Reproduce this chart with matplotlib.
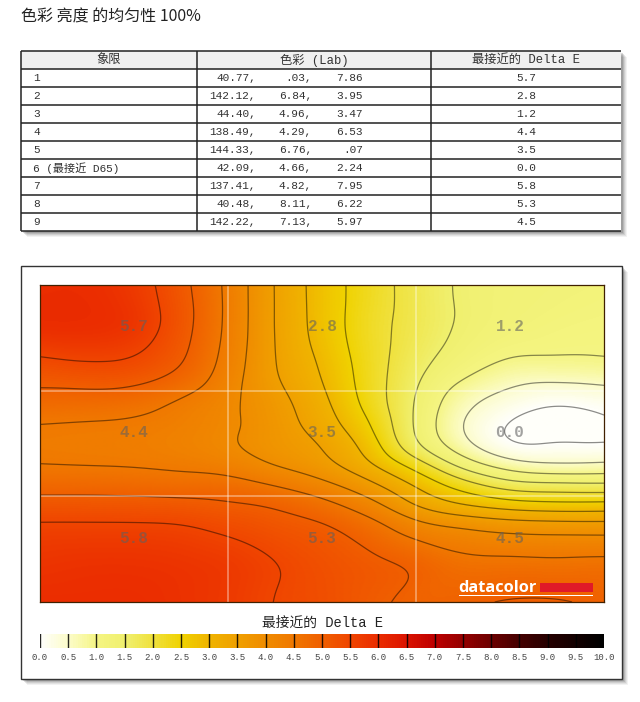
import numpy as np
import matplotlib
matplotlib.use("Agg")
import matplotlib.pyplot as plt
import matplotlib.tri as mtri
from matplotlib.colors import LinearSegmentedColormap
from matplotlib.patches import Rectangle

W, H = 640, 702
CJK = ['Noto Sans CJK SC', 'DejaVu Sans']
MONO = ['Liberation Mono', 'Noto Sans CJK SC']

title = "色彩 亮度 的均匀性 100%"
headers = ["象限", "色彩 (Lab)", "最接近的 Delta E"]
quadrants = ["1", "2", "3", "4", "5", "6 (最接近 D65)", "7", "8", "9"]
lab_l = ["40.77,", "142.12,", "44.40,", "138.49,", "144.33,", "42.09,", "137.41,", "40.48,", "142.22,"]
lab_a = [".03,", "6.84,", "4.96,", "4.29,", "6.76,", "4.66,", "4.82,", "8.11,", "7.13,"]
lab_b = ["7.86", "3.95", "3.47", "6.53", ".07", "2.24", "7.95", "6.22", "5.97"]
delta_e = [5.7, 2.8, 1.2, 4.4, 3.5, 0.0, 5.8, 5.3, 4.5]
legend_title = "最接近的 Delta E"
scale_ticks = [i * 0.5 for i in range(21)]

field_rows = [0.0, 0.126, 0.252, 0.379, 0.442, 0.505, 0.568, 0.631, 0.694, 0.757, 0.883, 1.0]
field = [
    [6.00, 6.00, 5.75, 5.15, 4.40, 3.47, 2.78, 2.25, 1.80, 1.42, 1.30, 1.25, 1.20],
    [6.00, 6.00, 5.85, 5.20, 4.40, 3.47, 2.80, 2.20, 1.80, 1.43, 1.25, 1.15, 1.10],
    [5.35, 5.45, 5.40, 5.02, 4.30, 3.50, 2.95, 2.25, 1.65, 1.20, 0.90, 0.90, 0.93],
    [4.75, 4.72, 4.65, 4.40, 4.10, 3.70, 3.15, 2.33, 1.45, 0.62, 0.20, -0.02, 0.08],
    [4.48, 4.45, 4.42, 4.30, 4.10, 3.75, 3.25, 2.55, 1.42, 0.47, -0.06, -0.15, -0.05],
    [4.40, 4.38, 4.35, 4.25, 4.05, 3.75, 3.50, 2.80, 1.55, 0.65, 0.00, 0.05, 0.00],
    [4.50, 4.48, 4.46, 4.40, 4.28, 3.97, 3.66, 3.08, 2.30, 1.30, 0.72, 0.53, 0.58],
    [4.80, 4.80, 4.78, 4.72, 4.72, 4.48, 4.15, 3.65, 2.95, 2.25, 1.72, 1.65, 1.60],
    [5.20, 5.20, 5.18, 5.15, 5.05, 4.95, 4.68, 4.20, 3.45, 3.00, 2.75, 2.65, 2.67],
    [5.55, 5.55, 5.55, 5.52, 5.37, 5.20, 5.05, 4.70, 4.15, 3.92, 3.75, 3.70, 3.68],
    [5.85, 5.90, 5.90, 5.85, 5.75, 5.52, 5.30, 5.12, 4.95, 4.65, 4.65, 4.62, 4.65],
    [6.00, 6.00, 6.00, 5.90, 5.75, 5.48, 5.35, 5.10, 4.90, 4.93, 5.03, 5.03, 4.92],
]
contour_levels = [i * 0.5 for i in range(12)]
scale_colors = ["#fffffa", "#fcfcc8", "#f5f582", "#f0f06e", "#f0e13c", "#f0d200", "#f0b400",
                "#f0a000", "#f08c00", "#f07800", "#f05f00", "#f04600", "#eb2d00", "#dc1400",
                "#be0000", "#960000", "#6e0000", "#460000", "#280000", "#140000", "#000000"]

cmap = LinearSegmentedColormap.from_list("delta", scale_colors)

fig = plt.figure(figsize=(W / 100, H / 100), dpi=100, facecolor="white")


def px_axes(x0, y0, x1, y1, **kw):
    return fig.add_axes([x0 / W, 1 - y1 / H, (x1 - x0) / W, (y1 - y0) / H], **kw)


def soften(z, sx, sy):
    # removes the facets of the coarse reading grid, with mirrored edges
    for axis, s in ((1, sx), (0, sy)):
        r = int(3 * s)
        k = np.exp(-0.5 * (np.arange(-r, r + 1) / s) ** 2)
        k /= k.sum()
        pad = [(r, r) if a == axis else (0, 0) for a in (0, 1)]
        zp = np.pad(z, pad, mode="reflect", reflect_type="odd")
        z = np.apply_along_axis(lambda v: np.convolve(v, k, mode="valid"), axis, zp)
    return z


bg = fig.add_axes([0, 0, 1, 1], zorder=0)
bg.set_xlim(0, W)
bg.set_ylim(H, 0)
bg.axis("off")


def shadow(x0, y0, x1, y1):
    for d, a in [(6, 0.06), (5, 0.08), (4, 0.1), (3, 0.14), (2, 0.18)]:
        bg.add_patch(Rectangle((x0 + d, y0 + d), x1 - x0, y1 - y0, fc="#303030", ec="none", alpha=a))
    bg.add_patch(Rectangle((x0, y0), x1 - x0, y1 - y0, fc="white", ec="none"))


bg.text(21, 17, title, family=CJK, fontsize=11.5, color="#222222", ha="left", va="center")

# table
tx0, tx1, ty0 = 21, 621, 51
row_h = 18
col_x = [197, 431]
n_rows = len(quadrants)
ty1 = ty0 + row_h * (n_rows + 1)
shadow(tx0, ty0, tx1, ty1)
bg.add_patch(Rectangle((tx0, ty0), tx1 - tx0, row_h, fc="#f0f0f0", ec="none"))
for i in range(n_rows + 2):
    y = ty0 + i * row_h
    bg.plot([tx0, tx1], [y, y], color="#222222", lw=1.1, solid_capstyle="butt")
for x in [tx0] + col_x:
    bg.plot([x, x], [ty0, ty1], color="#222222", lw=1.1, solid_capstyle="butt")
tfs = 8.0
tc = "#333333"
for x, h in zip([109, 314, 526], headers):
    bg.text(x, ty0 + row_h / 2, h, family=MONO, fontsize=8.8, color=tc, ha="center", va="center")
for i in range(n_rows):
    y = ty0 + row_h * (i + 1.5)
    bg.text(33, y, quadrants[i], family=MONO, fontsize=tfs, color=tc, ha="left", va="center")
    bg.text(256, y, lab_l[i], family=MONO, fontsize=tfs, color=tc, ha="right", va="center")
    bg.text(312, y, lab_a[i], family=MONO, fontsize=tfs, color=tc, ha="right", va="center")
    bg.text(363, y, lab_b[i], family=MONO, fontsize=tfs, color=tc, ha="right", va="center")
    bg.text(526, y, f"{delta_e[i]:.1f}", family=MONO, fontsize=tfs, color=tc, ha="center", va="center")

# chart frame
fx0, fy0, fx1, fy1 = 21, 266, 622, 679
shadow(fx0, fy0, fx1, fy1)
bg.add_patch(Rectangle((fx0, fy0), fx1 - fx0, fy1 - fy0, fc="white", ec="#333333", lw=1.0))

# surface
ax = px_axes(40, 285, 604, 602, zorder=2)
gx, gy = np.meshgrid(np.linspace(0, 1, len(field[0])), field_rows)
tri = mtri.Triangulation(gx.ravel(), gy.ravel())
interp = mtri.CubicTriInterpolator(tri, np.array(field).ravel(), kind="geom")
fx, fy = np.meshgrid(np.linspace(0, 1, 565), np.linspace(0, 1, 318))
fz = soften(np.ma.filled(interp(fx, fy), 0.0), 14, 7)
ax.imshow(fz, cmap=cmap, vmin=0, vmax=10, extent=(0, 1, 1, 0), aspect="auto", interpolation="bilinear")
ax.contour(fx, fy, fz, levels=contour_levels, colors="black", alpha=0.45, linewidths=0.9)
ax.set_xlim(0, 1)
ax.set_ylim(1, 0)
ax.set_xticks([])
ax.set_yticks([])
for s in ax.spines.values():
    s.set_linewidth(0.9)
    s.set_color("#402000")
for f in (1 / 3, 2 / 3):
    ax.axvline(f, color="#ffffff", alpha=0.45, lw=1.1)
    ax.axhline(f, color="#ffffff", alpha=0.45, lw=1.1)
for i, v in enumerate(delta_e):
    c, r = i % 3, i // 3
    ax.text((c + 0.5) / 3, (r + 0.5) / 3 - 0.035, f"{v:.1f}", family="Liberation Mono", weight="bold",
            fontsize=11.5, color="#606060", alpha=0.58, ha="center", va="center")

# datacolor logo
bg2 = fig.add_axes([0, 0, 1, 1], zorder=3)
bg2.set_xlim(0, W)
bg2.set_ylim(H, 0)
bg2.axis("off")
bg2.patch.set_alpha(0)
bg2.text(458, 587.5, "datacolor", family="Open Sans", weight="bold", fontsize=11.8, color="white",
         ha="left", va="center")
bg2.add_patch(Rectangle((540, 583), 53, 9, fc="#e01a28", ec="none"))
bg2.add_patch(Rectangle((459, 594.5), 134, 1.6, fc="white", ec="none"))

# colour scale
bg2.text(322, 623, legend_title, family=MONO, fontsize=9.9, color="#222222", ha="center", va="center")
cax = px_axes(40, 634, 604, 648, zorder=2)
cax.imshow(np.linspace(0, 10, 564)[None, :], cmap=cmap, vmin=0, vmax=10, extent=(0, 10, 0, 1), aspect="auto")
cax.axis("off")
for t in scale_ticks:
    cax.axvline(t, color="black", lw=1.0, alpha=0.85 if t < 10 else 0)
    x = 40 + t * 56.4
    bg2.text(x, 658, f"{t:.1f}", family="Liberation Mono", fontsize=6.5, color="#444444", ha="center", va="center")

fig.savefig("out.png", dpi=100)
